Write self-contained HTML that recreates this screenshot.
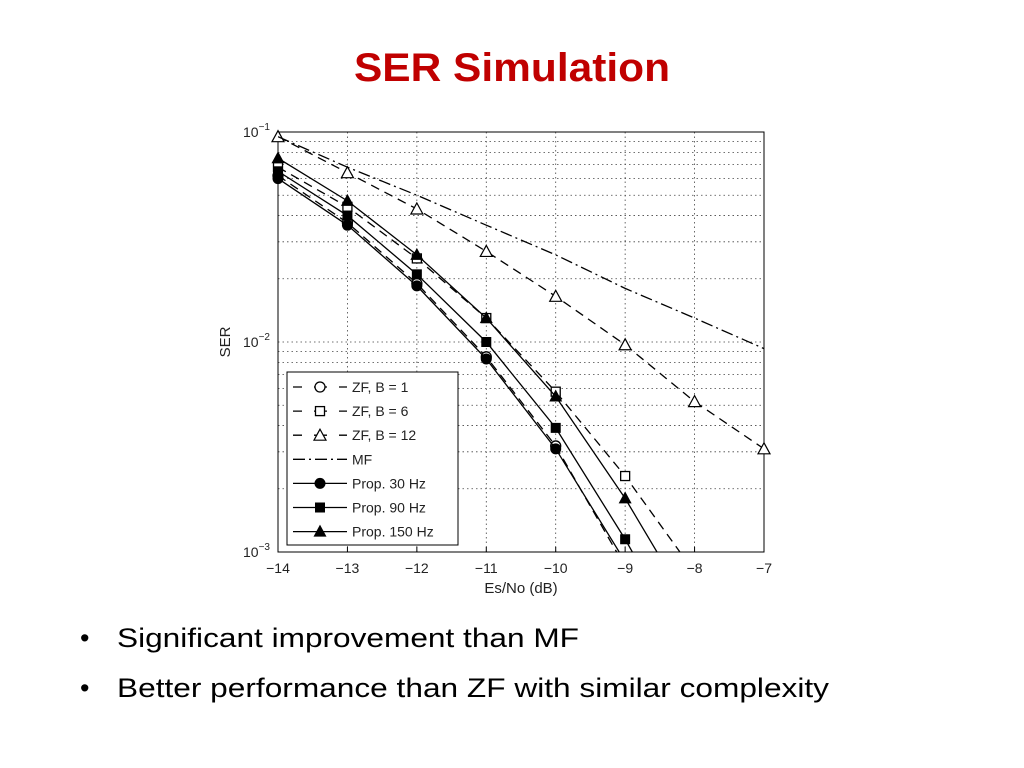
<!DOCTYPE html>
<html><head><meta charset="utf-8"><style>
body{margin:0;background:#fff;width:1024px;height:768px;overflow:hidden}
svg{display:block}
</style></head><body>
<svg id="c" width="1024" height="768" viewBox="0 0 1024 768">
<text x="512" y="81" text-anchor="middle" font-family="Liberation Sans, sans-serif" font-weight="bold" font-size="40" fill="#c00000" textLength="316" lengthAdjust="spacingAndGlyphs">SER Simulation</text>
<g id="plot"></g>
<g font-family="Liberation Sans, sans-serif" font-size="27" fill="#000">
<text x="80" y="647">•</text>
<text x="117" y="647" textLength="462" lengthAdjust="spacingAndGlyphs">Significant improvement than MF</text>
<text x="80" y="697">•</text>
<text x="117" y="697" textLength="712" lengthAdjust="spacingAndGlyphs">Better performance than ZF with similar complexity</text>
</g>
</svg>
<script>
const xs = [-14,-13,-12,-11,-10,-9,-8,-7];
const zfB1 = [0.062,0.037,0.019,0.0085,0.0032,0.00085];
const zfB6 = [0.068,0.044,0.025,0.013,0.0058,0.0023,0.0008];
const zfB12 = [0.095,0.064,0.043,0.027,0.0165,0.0097,0.0052,0.0031];
const mf = [0.095,0.068,0.05,0.036,0.026,0.018,0.013,0.0093];
const prop30 = [0.060,0.036,0.0185,0.0083,0.0031,0.0009];
const prop90 = [0.065,0.040,0.021,0.010,0.0039,0.00115,0.0003];
const prop150 = [0.075,0.047,0.026,0.013,0.0055,0.0018,0.0005];
const xTicks = [-14,-13,-12,-11,-10,-9,-8,-7];
const yExps = [-1,-2,-3];

const NS='http://www.w3.org/2000/svg';
const L=278,R=764,T=132,B=552;
const X=v=>L+(v+14)/7*(R-L);
const Y=v=>T+(-1-Math.log10(v))*(B-T)/2;
const g=document.getElementById('plot');
function mk(t,a,p){const e=document.createElementNS(NS,t);for(const k in a)e.setAttribute(k,a[k]);(p||g).appendChild(e);return e;}
const defs=mk('defs',{});const cp=mk('clipPath',{id:'cl'},defs);mk('rect',{x:L,y:T,width:R-L,height:B-T},cp);
mk('rect',{x:L,y:T,width:R-L,height:B-T,fill:'#fff'});
const grid=mk('g',{stroke:'#444','stroke-width':0.8,'stroke-dasharray':'1.5,3'});


xTicks.forEach(t=>{mk('line',{x1:X(t),x2:X(t),y1:T,y2:B},grid);});
for(let d=-3;d<-1;d++)for(let m=1;m<10;m++){const v=m*Math.pow(10,d);const y=Y(v);mk('line',{x1:L,x2:R,y1:y,y2:y},grid);}
const ax=mk('g',{'font-family':'Liberation Sans, sans-serif','font-size':14,fill:'#222'});


xTicks.forEach(t=>{
 mk('line',{x1:X(t),x2:X(t),y1:B,y2:B-5,stroke:'#000'},ax);
 const tx=mk('text',{x:X(t),y:B+21,'text-anchor':'middle'},ax);tx.textContent='\u2212'+Math.abs(t);
 
 
});
yExps.forEach(e=>{
 const y=Y(Math.pow(10,e));
 const tx=mk('text',{x:L-8,y:y+5,'text-anchor':'end'},ax);
 tx.innerHTML='10<tspan dy="-7" font-size="10">\u2212'+Math.abs(e)+'</tspan>';
 
 
});
mk('rect',{x:L,y:T,width:R-L,height:B-T,fill:'none',stroke:'#000','stroke-width':1},ax);
const xl=mk('text',{x:521,y:593,'text-anchor':'middle','font-size':15},ax);xl.textContent='Es/No (dB)';


const yl=mk('text',{x:230,y:342,'text-anchor':'middle','font-size':15,transform:'rotate(-90 230 342)'},ax);yl.textContent='SER';


function marker(p,type,x,y){
 if(type==='o')return mk('circle',{cx:x,cy:y,r:5,fill:'#fff',stroke:'#000','stroke-width':1.3},p);
 if(type==='O')return mk('circle',{cx:x,cy:y,r:5.5,fill:'#000'},p);
 if(type==='s')return mk('rect',{x:x-4.5,y:y-4.5,width:9,height:9,fill:'#fff',stroke:'#000','stroke-width':1.3},p);
 if(type==='S')return mk('rect',{x:x-5,y:y-5,width:10,height:10,fill:'#000'},p);
 if(type==='t')return mk('polygon',{points:`${x},${y-6} ${x-6},${y+5} ${x+6},${y+5}`,fill:'#fff',stroke:'#000','stroke-width':1.2},p);
 if(type==='T')return mk('polygon',{points:`${x},${y-7} ${x-6.5},${y+5} ${x+6.5},${y+5}`,fill:'#000'},p);
}
const series=[
 {name:'zf-b1',d:zfB1,dash:'9,6',m:'o',label:'ZF, B = 1'},
 {name:'zf-b6',d:zfB6,dash:'9,6',m:'s',label:'ZF, B = 6'},
 {name:'zf-b12',d:zfB12,dash:'9,6',m:'t',label:'ZF, B = 12'},
 {name:'mf',d:mf,dash:'12,4,2,4',m:null,label:'MF'},
 {name:'prop-30hz',d:prop30,dash:null,m:'O',label:'Prop. 30 Hz'},
 {name:'prop-90hz',d:prop90,dash:null,m:'S',label:'Prop. 90 Hz'},
 {name:'prop-150hz',d:prop150,dash:null,m:'T',label:'Prop. 150 Hz'}
];
series.forEach(s=>{
 const sg=mk('g',{});
 
 
 const pts=s.d.map((v,i)=>X(xs[i])+','+Y(v)).join(' ');
 const a={points:pts,fill:'none',stroke:'#000','stroke-width':1.3,'clip-path':'url(#cl)'};if(s.dash)a['stroke-dasharray']=s.dash;
 mk('polyline',a,sg);
 if(s.m)s.d.forEach((v,i)=>{if(v>=0.001){const m=marker(sg,s.m,X(xs[i]),Y(v));
  
  }});
});
const lg=mk('g',{});


mk('rect',{x:287,y:372,width:171,height:173,fill:'#fff',stroke:'#000','stroke-width':1},lg);
series.forEach((s,i)=>{
 const y=387+i*24.1;
 const eg=mk('g',{},lg);
 
 
 const a={x1:293,x2:347,y1:y,y2:y,stroke:'#000','stroke-width':1.3};if(s.dash)a['stroke-dasharray']=s.dash==='9,6'?'9,12,13,12,9':'12,4,2,4';
 mk('line',a,eg);
 if(s.m)marker(eg,s.m,320,y);
 const t=mk('text',{x:352,y:y+5,'font-family':'Liberation Sans, sans-serif','font-size':14,fill:'#222'},eg);t.textContent=s.label;
});
</script>
</body></html>
